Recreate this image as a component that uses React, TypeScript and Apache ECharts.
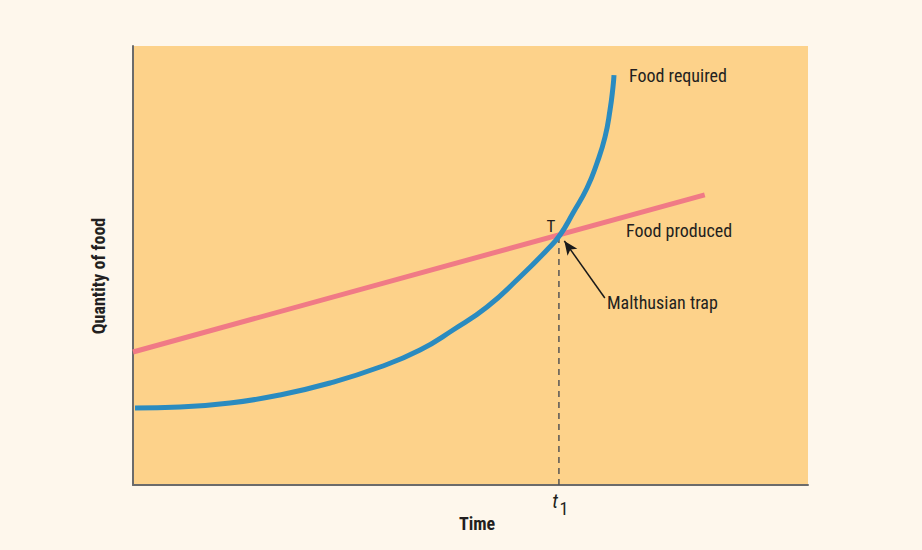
import React, { useEffect, useRef } from "react";
import * as echarts from "echarts";

// Data (axis units 0..100 on both axes)
const producedX = [0, 84.7];
const producedY = [30.3, 66.1];

const requiredX = [0.3, 6.96, 14.37, 21.78, 29.19, 36.59, 42.52, 47.41, 52.44, 57.33, 61.33, 63.26, 65.19, 67.26, 68.74, 69.93, 70.67, 71.11, 71.26];
const requiredY = [17.54, 17.77, 18.68, 20.5, 23.23, 26.88, 30.75, 35.31, 40.55, 47.38, 53.53, 56.95, 61.96, 67.65, 73.35, 79.27, 85.42, 90.66, 93.39];

const trapX = 63.1;
const trapY = 56.9;
const arrowFrom = [69.9, 42.6];
const arrowTo = [63.9, 55.6];

const labels = {
  required: "Food required",
  produced: "Food produced",
  trap: "Malthusian trap",
  point: "T",
  xName: "Time",
  yName: "Quantity of food",
};

const FONT = "'Liberation Sans Narrow', 'Roboto Condensed', 'DejaVu Sans Condensed', sans-serif";
const TXT = "#231f20";

export default function App() {
  const ref = useRef<HTMLDivElement>(null);
  useEffect(() => {
    if (!ref.current) return;
    const chart = echarts.init(ref.current, undefined, { renderer: "svg" });
    const axisCommon = {
      type: "value" as const,
      min: 0,
      max: 100,
      axisLine: { show: true, lineStyle: { color: "#6b6b6b", width: 2 } },
      axisTick: { show: false },
      axisLabel: { show: false },
      splitLine: { show: false },
    };
    chart.setOption({
      animation: false,
      backgroundColor: "#fef7ec",
      grid: {
        left: 133,
        right: 114,
        top: 46,
        bottom: 65,
        show: true,
        backgroundColor: "#fdd28a",
        borderWidth: 0,
      },
      xAxis: axisCommon,
      yAxis: axisCommon,
      series: [
        {
          type: "line",
          data: producedX.map((x, i) => [x, producedY[i]]),
          symbol: "none",
          lineStyle: { color: "#f07a86", width: 5 },
          z: 2,
        },
        {
          type: "line",
          data: [
            [trapX, 0],
            [trapX, trapY],
          ],
          symbol: "none",
          lineStyle: { color: "#555555", width: 1.5, type: [6, 5] },
          z: 1,
        },
        {
          type: "line",
          data: requiredX.map((x, i) => [x, requiredY[i]]),
          symbol: "none",
          smooth: 0.5,
          lineStyle: { color: "#2a8bc0", width: 5 },
          z: 3,
        },
        {
          type: "line",
          data: [],
          symbol: "none",
          markLine: {
            silent: true,
            symbol: ["none", "arrow"],
            symbolSize: [9, 14],
            label: { show: false },
            lineStyle: { color: "#1a1a1a", width: 1.5, type: "solid" },
            data: [[{ coord: arrowFrom }, { coord: arrowTo }]],
          },
          z: 4,
        },
      ],
      graphic: [
        { type: "text", left: 629, top: 66, style: { text: labels.required, font: `18px ${FONT}`, fill: TXT } },
        { type: "text", left: 626, top: 221, style: { text: labels.produced, font: `18px ${FONT}`, fill: TXT } },
        { type: "text", left: 607, top: 293, style: { text: labels.trap, font: `18px ${FONT}`, fill: TXT } },
        { type: "text", x: 551, y: 226, style: { text: labels.point, font: `17px ${FONT}`, fill: TXT, align: "center", verticalAlign: "middle" } },
        { type: "text", x: 555, y: 501, style: { text: "t", font: `italic 20px ${FONT}`, fill: TXT, align: "center", verticalAlign: "middle" } },
        { type: "text", x: 564, y: 508, style: { text: "1", font: `18px ${FONT}`, fill: TXT, align: "center", verticalAlign: "middle" } },
        { type: "text", x: 477, y: 523, style: { text: labels.xName, font: `bold 18px ${FONT}`, fill: TXT, align: "center", verticalAlign: "middle" } },
        {
          type: "text",
          x: 98,
          y: 276,
          rotation: Math.PI / 2,
          style: { text: labels.yName, font: `bold 18px ${FONT}`, fill: TXT, align: "center", verticalAlign: "middle" },
        },
      ],
    });
    return () => chart.dispose();
  }, []);
  return (
    <div
      ref={ref}
      style={{ position: "absolute", left: 0, top: 0, width: 922, height: 550 }}
    />
  );
}
